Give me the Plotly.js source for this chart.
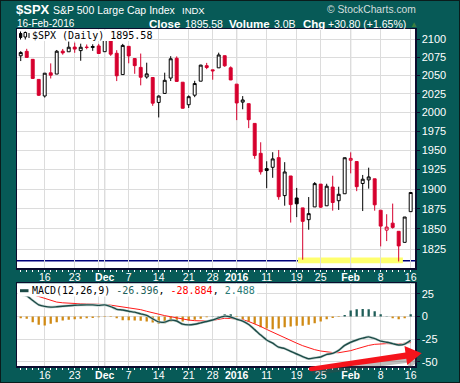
<!DOCTYPE html>
<html><head><meta charset="utf-8">
<script src="https://cdn.plot.ly/plotly-3.0.1.min.js"></script>
<style>
html,body{margin:0;padding:0;background:#075a57;overflow:hidden;}
#chart{width:460px;height:383px;}
#frame{position:absolute;left:0;top:0;width:460px;height:383px;box-sizing:border-box;border:1px solid #0a1c1c;pointer-events:none;}
</style>
</head><body><div id="chart"></div><div id="frame"></div>
<script>
// ---------- DATA ----------
const dates = [
 '2015-11-10','2015-11-11','2015-11-12','2015-11-13','2015-11-16','2015-11-17','2015-11-18','2015-11-19','2015-11-20','2015-11-23','2015-11-24','2015-11-25','2015-11-27','2015-11-30',
 '2015-12-01','2015-12-02','2015-12-03','2015-12-04','2015-12-07','2015-12-08','2015-12-09','2015-12-10','2015-12-11','2015-12-14','2015-12-15','2015-12-16','2015-12-17','2015-12-18','2015-12-21','2015-12-22','2015-12-23','2015-12-24','2015-12-28','2015-12-29','2015-12-30','2015-12-31',
 '2016-01-04','2016-01-05','2016-01-06','2016-01-07','2016-01-08','2016-01-11','2016-01-12','2016-01-13','2016-01-14','2016-01-15','2016-01-19','2016-01-20','2016-01-21','2016-01-22','2016-01-25','2016-01-26','2016-01-27','2016-01-28','2016-01-29',
 '2016-02-01','2016-02-02','2016-02-03','2016-02-04','2016-02-05','2016-02-08','2016-02-09','2016-02-10','2016-02-11','2016-02-12','2016-02-16'];
const opens = [
 2077.19,2083.41,2072.29,2044.64,2022.08,2053.67,2051.99,2083.70,2082.82,2089.41,2084.42,2089.30,2088.82,2090.95,
 2082.93,2101.71,2080.71,2051.24,2090.42,2073.39,2061.17,2047.93,2047.27,2013.37,2025.55,2046.50,2073.76,2040.81,2010.27,2023.15,2042.20,2063.52,2057.77,2060.54,2077.34,2060.59,
 2038.20,2013.78,2011.71,1985.32,1945.97,1926.12,1927.83,1940.34,1891.68,1916.68,1888.66,1876.18,1861.46,1877.40,1906.28,1878.79,1902.52,1885.22,1894.00,
 1936.94,1935.26,1907.07,1911.67,1913.07,1873.25,1848.46,1857.10,1847.00,1833.40,1871.44];
const highs = [
 2083.67,2086.94,2072.29,2044.64,2053.22,2066.69,2085.31,2086.74,2097.06,2095.61,2094.12,2093.00,2093.29,2093.81,
 2103.37,2104.27,2085.00,2093.84,2090.42,2073.85,2080.33,2067.65,2047.27,2022.92,2053.87,2076.72,2076.37,2040.81,2022.90,2042.74,2064.73,2067.36,2057.77,2081.56,2077.34,2062.54,
 2038.20,2021.94,2011.71,1985.32,1960.40,1935.65,1947.38,1950.33,1934.47,1916.68,1901.44,1876.18,1889.85,1908.85,1906.28,1906.73,1916.99,1902.96,1940.24,
 1947.20,1935.26,1918.01,1927.35,1913.07,1873.25,1868.25,1881.60,1847.00,1864.78,1895.77];
const lows = [
 2069.91,2074.85,2045.66,2022.02,2019.94,2045.90,2051.99,2078.76,2082.82,2081.39,2070.29,2086.30,2084.13,2080.41,
 2082.93,2077.11,2042.35,2051.24,2066.78,2052.32,2036.53,2045.67,2008.80,1993.26,2025.55,2042.43,2041.66,2005.33,2005.93,2020.49,2042.20,2058.73,2044.20,2060.54,2061.97,2043.62,
 1989.68,2004.17,1979.05,1938.83,1918.46,1901.10,1914.35,1886.41,1878.93,1857.83,1864.60,1812.29,1848.98,1877.40,1875.97,1878.79,1872.70,1873.65,1894.00,
 1920.03,1897.29,1872.23,1900.52,1872.65,1828.46,1834.94,1850.32,1810.10,1833.40,1871.44];
const closes = [
 2081.72,2075.00,2045.97,2023.04,2053.19,2050.44,2083.58,2081.24,2089.17,2086.59,2089.14,2088.87,2090.11,2080.41,
 2102.63,2079.51,2049.62,2091.69,2077.07,2063.59,2047.62,2052.23,2012.37,2021.94,2043.41,2073.07,2041.89,2005.55,2021.15,2038.97,2064.29,2060.99,2056.50,2078.36,2063.36,2043.94,
 2012.66,2016.71,1990.26,1943.09,1922.03,1923.67,1938.68,1890.28,1921.84,1880.33,1881.33,1859.33,1868.99,1906.90,1877.08,1903.63,1882.95,1893.36,1940.24,
 1939.38,1903.03,1912.53,1915.45,1880.05,1853.44,1852.21,1851.86,1829.08,1864.78,1895.58];
const priorClose = 2078.58;

const macd = [
 24.5,22.8,17.8,13.0,11.2,10.4,10.8,11.4,12.0,12.5,12.8,12.9,12.9,12.3,
 12.9,11.0,8.0,7.2,5.9,4.8,3.0,1.2,-2.5,-6.0,-6.2,-4.0,-5.0,-8.5,-9.3,-8.5,-7.0,-5.5,-3.8,-1.5,0.4,-0.5,
 -3.0,-5.0,-8.8,-14.5,-20.5,-26.0,-29.5,-34.0,-35.5,-38.5,-41.5,-44.5,-46.8,-45.8,-44.8,-42.0,-40.8,-37.5,-32.0,
 -28.5,-26.0,-24.0,-22.5,-24.5,-27.2,-28.5,-30.0,-31.5,-30.5,-26.396];
const signal = [
 26.5,25.8,24.3,22.2,20.0,17.8,16.0,15.2,14.6,14.3,14.1,14.0,13.9,13.6,
 13.3,12.6,11.5,10.8,10.0,9.0,7.6,5.8,4.0,2.6,1.0,-0.2,-1.5,-3.0,-3.9,-4.6,-5.1,-5.0,-4.3,-3.2,-1.9,-2.2,
 -2.7,-3.5,-5.5,-8.0,-11.0,-14.3,-17.5,-20.5,-23.5,-26.5,-29.5,-32.3,-34.8,-36.7,-38.2,-39.2,-39.9,-40.1,-39.3,
 -37.8,-35.8,-33.8,-32.0,-30.8,-30.2,-30.0,-30.2,-30.6,-29.5,-28.884];
const hist = [
 -2.0,-2.5,-6.3,-9.2,-10.0,-8.0,-6.3,-4.4,-3.7,-3.0,-2.6,-1.8,-1.5,-0.8,
 -0.4,-0.4,-2.0,-4.0,-4.0,-4.4,-4.8,-5.5,-6.6,-8.1,-7.4,-5.5,-4.4,-5.5,-4.4,-3.7,-2.6,-0.8,0.4,0.5,2.6,2.4,
 -0.4,-3.0,-5.5,-8.0,-11.8,-13.3,-14.0,-13.3,-11.8,-11.0,-10.3,-10.3,-9.2,-7.4,-5.5,-3.0,-1.5,-0.5,1.6,
 6.6,8.1,8.3,8.1,5.9,2.4,0.4,-2.0,-3.0,-1.8,2.488];

const tickDates = ['2015-11-16','2015-11-23','2015-11-30','2015-12-01','2015-12-07','2015-12-14','2015-12-21','2015-12-28','2016-01-04','2016-01-11','2016-01-19','2016-01-25','2016-02-01','2016-02-08','2016-02-16'];
const tickLabels = ['16','23','','<b>Dec</b>','7','14','21','28','<b>2016</b>','11','19','25','<b>Feb</b>','8','16'];
const monthStarts = ['2015-12-01','2016-01-04','2016-02-01'];
const priceTicks = [1825,1850,1875,1900,1925,1950,1975,2000,2025,2050,2075,2100];
const macdTicks = [-50,-25,0,25];
const macdTickLabels = ['-50','-25','0','25'];
const supportLevel = 1811;
const zoneLow = 1808, zoneHigh = 1815;
const zoneFrom = '2016-01-19', zoneTo = '2016-02-12';

// ---------- LAYOUT HELPERS ----------
const L=17, R=45, T=29, B=17, FW=460, FH=383;
const W=FW-L-R, H=FH-T-B;
const px = v => (v-L)/W;
const py = v => (T+H-v)/H;
const FONT = 'Liberation Sans, Arial, sans-serif';
const MONO = 'DejaVu Sans Mono, monospace';
const frameCol = '#0c0c2e';
const gridCol = '#dcdcdc';
const RED = '#d6002e';

const idx = dates.map((d,i)=>i);
const prev = closes.map((c,i)=> i===0 ? priorClose : closes[i-1]);
const tickIdx = tickDates.map(d=>dates.indexOf(d));
const monthIdx = monthStarts.map(d=>dates.indexOf(d));

function candleTrace(cond, col){
  const sel = idx.filter(cond);
  return {type:'candlestick', xaxis:'x', yaxis:'y',
    x: sel, open: sel.map(i=>opens[i]), high: sel.map(i=>highs[i]),
    low: sel.map(i=>lows[i]), close: sel.map(i=>closes[i]),
    increasing:{line:{color:col,width:1}, fillcolor:'#ffffff'},
    decreasing:{line:{color:col,width:1}, fillcolor:col},
    whiskerwidth:0, hoverinfo:'skip', showlegend:false};
}

const traces = [
  candleTrace(i=>closes[i]>=prev[i], '#000000'),
  candleTrace(i=>closes[i]<prev[i], RED),
  {type:'bar', xaxis:'x2', yaxis:'y2', x:idx, y:hist, width:0.38,
   marker:{color:hist.map(v=>v>=0?'#1f5d58':'#d08a14')}, hoverinfo:'skip'},
  {type:'scatter', mode:'lines', xaxis:'x2', yaxis:'y2', x:idx, y:signal,
   line:{color:'#ff1a1a', width:1}, hoverinfo:'skip'},
  {type:'scatter', mode:'lines', xaxis:'x2', yaxis:'y2', x:idx, y:macd,
   line:{color:'#c3d4d1', width:2.6, shape:'spline', smoothing:0.6}, hoverinfo:'skip'},
  {type:'scatter', mode:'lines', xaxis:'x2', yaxis:'y2', x:idx, y:macd,
   line:{color:'#1c4a46', width:1.4, shape:'spline', smoothing:0.6}, hoverinfo:'skip'}
];

const xCommon = {
  range:[-0.62, 65.72], tickmode:'array', tickvals:tickIdx, ticktext:tickLabels,
  showgrid:true, gridcolor:gridCol, gridwidth:1, zeroline:false,
  showline:true, mirror:true, linecolor:frameCol, linewidth:1.5,
  ticks:'outside', ticklen:2, tickcolor:'#ffffff', tickwidth:1, ticklabelstandoff:-3,
  tickfont:{family:FONT, size:10.5, color:'#ffffff'},
  minor:{tickmode:'linear', tick0:0, dtick:1, ticks:'outside', ticklen:2, tickcolor:'#ffffff', tickwidth:1, showgrid:false},
  fixedrange:true, rangeslider:{visible:false}
};

const layout = {
  width:FW, height:FH, margin:{l:L, r:R, t:T, b:B, pad:0},
  paper_bgcolor:'#075a57', plot_bgcolor:'#ffffff',
  showlegend:false, hovermode:false, dragmode:false,
  boxgap:0.3, boxgroupgap:0.3,
  xaxis: Object.assign({}, xCommon, {domain:[0,1], anchor:'y'}),
  xaxis2: Object.assign({}, xCommon, {domain:[0,1], anchor:'y2'}),
  yaxis: {domain:[py(268),1], anchor:'x', type:'log',
    range:[Math.log10(1802.2), Math.log10(2114.8)], side:'right',
    tickmode:'array', tickvals:priceTicks, ticktext:priceTicks.map(String),
    showgrid:true, gridcolor:gridCol, gridwidth:1, zeroline:false,
    showline:true, mirror:true, linecolor:frameCol, linewidth:1.5,
    ticks:'outside', ticklen:3, tickcolor:frameCol,
    tickfont:{family:FONT, size:11, color:'#ffffff'}, fixedrange:true},
  yaxis2: {domain:[0,py(283.3)], anchor:'x2', range:[-54.8,36.8], side:'right',
    tickmode:'array', tickvals:macdTicks, ticktext:macdTickLabels,
    showgrid:true, gridcolor:gridCol, gridwidth:1, zeroline:false,
    showline:true, mirror:true, linecolor:frameCol, linewidth:1.5,
    ticks:'outside', ticklen:3, tickcolor:frameCol,
    tickfont:{family:FONT, size:11, color:'#ffffff'}, fixedrange:true},
  shapes:[], annotations:[]
};

// month separators (darker grid)
monthIdx.forEach(m=>{
  ['', '2'].forEach(s=>{
    layout.shapes.push({type:'line', layer:'below', xref:'x'+s, yref:'y'+s+' domain',
      x0:m, x1:m, y0:0, y1:1, line:{color:'#b3b3b3', width:1}});
  });
});
// support zone + line
layout.shapes.push({type:'rect', layer:'below', xref:'x', yref:'y',
  x0:dates.indexOf(zoneFrom)+0.2, x1:dates.indexOf(zoneTo)-0.3, y0:zoneLow, y1:zoneHigh,
  fillcolor:'#ffff6e', line:{width:0}});
layout.shapes.push({type:'line', layer:'below', xref:'x domain', yref:'y',
  x0:0, x1:1, y0:supportLevel, y1:supportLevel, line:{color:'#00007a', width:1.5}});

// legend boxes
layout.shapes.push({type:'rect', layer:'above', xref:'paper', yref:'paper',
  x0:px(17.8), x1:px(150), y0:py(41), y1:py(29.8), fillcolor:'#ffffff', line:{width:0}});
layout.shapes.push({type:'rect', layer:'above', xref:'paper', yref:'paper',
  x0:px(17.8), x1:px(257), y0:py(296.5), y1:py(284), fillcolor:'#ffffff', line:{width:0}});
// candle icon
const icon = [
  {type:'line', x0:20.5, x1:20.5, y0:31.5, y1:39.5},
  {type:'rect', x0:19.5, x1:21.8, y0:33.5, y1:37.5, fill:true},
  {type:'line', x0:25.3, x1:25.3, y0:31.5, y1:39.5},
  {type:'rect', x0:24, x1:26.6, y0:32.5, y1:37, fill:false},
  {type:'line', x0:29, x1:29, y0:33, y1:38}
];
icon.forEach(s=>{
  const sh = {type:s.type, layer:'above', xref:'paper', yref:'paper',
    x0:px(s.x0), x1:px(s.x1), y0:py(s.y0), y1:py(s.y1),
    line:{color:'#000000', width:1}};
  if(s.type==='rect') sh.fillcolor = s.fill ? '#000000' : '#ffffff';
  layout.shapes.push(sh);
});
// MACD legend dash
layout.shapes.push({type:'line', layer:'above', xref:'paper', yref:'paper',
  x0:px(20), x1:px(28.5), y0:py(290.7), y1:py(290.7), line:{color:'#1c4a46', width:3}});

// red arrow (drawn annotation)
function pathFrom(pts, dx, dy){
  return 'M' + pts.map(p=>px(p[0]+dx)+','+py(p[1]+dy)).join(' L') + ' Z';
}
const arrowPts = [[310.7,366.8],[405.4,352.4],[404.5,346.1],[421.7,353.3],[407.2,365.0],[406.3,358.7],[311.3,371.2]];
layout.shapes.push({type:'path', layer:'above', xref:'paper', yref:'paper',
  path:pathFrom(arrowPts, 1.5, 4), fillcolor:'rgba(70,70,70,0.35)', line:{width:0}});
layout.shapes.push({type:'path', layer:'above', xref:'paper', yref:'paper',
  path:pathFrom(arrowPts, 0, 0), fillcolor:'#f5141c', line:{width:0}});
layout.shapes.push({type:'circle', layer:'above', xref:'paper', yref:'paper',
  x0:px(308.8), x1:px(313.2), y0:py(371.2), y1:py(366.8), fillcolor:'#f5141c', line:{width:0}});

// text annotations
function txt(text, x, y, size, color, family){
  layout.annotations.push({text:text, xref:'paper', yref:'paper',
    x:px(x), y:py(y), xanchor:'left', yanchor:'middle', showarrow:false,
    borderpad:0, borderwidth:0, font:{family:family||FONT, size:size, color:color}});
}
const last = closes.length-1;
const chg = closes[last]-closes[last-1];
const chgPct = chg/closes[last-1]*100;
txt('<b>$SPX</b>', 16, 10, 13, '#ffffff');
txt('S&amp;P 500 Large Cap Index', 53.3, 10, 10.5, '#ffffff');
txt('INDX', 181.7, 10.5, 9.5, '#ffffff');
txt('\u00a9 StockCharts.com', 326.7, 10, 10.3, '#d3dddd');
txt('16-Feb-2016', 17, 23.7, 10, '#ffffff');
txt('<b>Close</b>', 148.7, 23.7, 11.5, '#ffffff');
txt(closes[last].toFixed(2), 185.3, 23.9, 10.5, '#ffffff');
txt('<b>Volume</b>', 229.3, 23.7, 11.5, '#ffffff');
txt('3.0B', 274, 23.9, 10.5, '#ffffff');
txt('<b>Chg</b>', 302.7, 23.7, 11.5, '#ffffff');
txt('+' + chg.toFixed(2) + ' (+' + chgPct.toFixed(2) + '%)', 328.3, 23.9, 10.5, '#ffffff');
txt('\u25b2', 409.5, 24.5, 8, '#3e7f3e');
txt('$SPX (Daily) ' + closes[last].toFixed(2), 31.7, 35.5, 10, '#000000', MONO);
txt('MACD(12,26,9) <span style="color:#1f5f5a">' + macd[last].toFixed(3) + '</span>, <span style="color:#ff0000">' +
    signal[last].toFixed(3) + '</span>, <span style="color:#2a7a75">' + hist[last].toFixed(3) + '</span>',
    32, 290.7, 10, '#000000', MONO);

Plotly.newPlot('chart', traces, layout, {staticPlot:true, displayModeBar:false});
</script>
</body></html>
